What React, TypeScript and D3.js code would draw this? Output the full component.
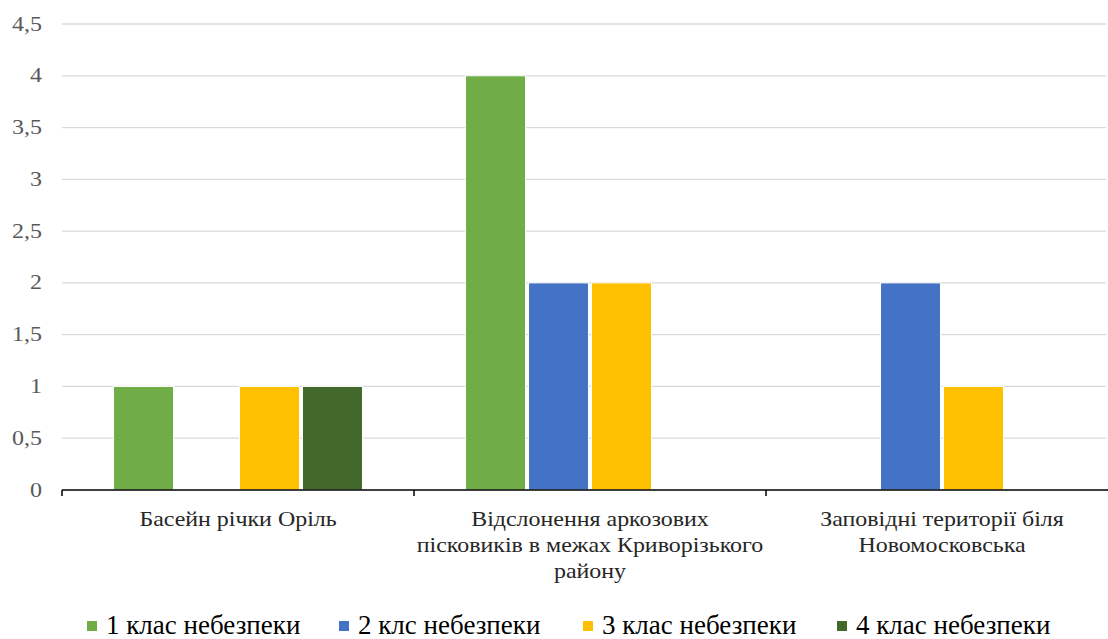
import React, { useEffect, useRef } from 'react';
import * as d3 from 'd3';

const categories = [
  ['Басейн річки Оріль'],
  ['Відслонення аркозових', 'пісковиків в межах Криворізького', 'району'],
  ['Заповідні території біля', 'Новомосковська'],
];
const seriesNames = ['1 клас небезпеки', '2 клс небезпеки', '3 клас небезпеки', '4 клас небезпеки'];
const seriesColors = ['#70ad47', '#4472c4', '#ffc000', '#43682b'];
const class1 = [1, 4, 0];
const class2 = [0, 2, 2];
const class3 = [1, 2, 1];
const class4 = [1, 0, 0];
const yTicks = [0, 0.5, 1, 1.5, 2, 2.5, 3, 3.5, 4, 4.5];

const W = 1108;
const H = 639;
const FONT = 'Liberation Serif, Times New Roman, serif';

export default function App() {
  const ref = useRef<SVGSVGElement>(null);

  useEffect(() => {
    const svg = d3.select(ref.current);
    svg.selectAll('*').remove();

    const left = 62;
    const right = 1118;
    const top = 24;
    const bottom = 490;
    const values = [class1, class2, class3, class4];
    const catIdx = categories.map((_, i) => String(i));

    const x0 = d3.scaleBand().domain(catIdx).range([left, right]).padding(0);
    const x1 = d3.scaleBand()
      .domain(seriesNames)
      .range([0, x0.bandwidth()])
      .paddingInner(0.048)
      .paddingOuter(0.818);
    const y = d3.scaleLinear().domain([0, 4.5]).range([bottom, top]);

    // gridlines
    svg.append('g')
      .selectAll('line')
      .data(yTicks.filter(t => t > 0))
      .enter()
      .append('line')
      .attr('x1', left)
      .attr('x2', 1106)
      .attr('y1', d => y(d))
      .attr('y2', d => y(d))
      .attr('stroke', '#d9d9d9')
      .attr('stroke-width', 1.3);

    // y labels (reference text is a bit stretched sideways)
    svg.append('g')
      .selectAll('text')
      .data(yTicks)
      .enter()
      .append('text')
      .attr('transform', d => `translate(42,${y(d)}) scale(1.2,1)`)
      .attr('dy', '0.33em')
      .attr('text-anchor', 'end')
      .attr('font-family', FONT)
      .attr('font-size', 20)
      .attr('fill', '#595959')
      .text(d => String(d).replace('.', ','));

    // bars
    const groups = svg.append('g')
      .selectAll('g')
      .data(catIdx)
      .enter()
      .append('g')
      .attr('transform', d => `translate(${x0(d)},0)`);

    groups.selectAll('rect')
      .data((d, ci) => seriesNames.map((s, si) => ({ s, si, v: values[si][ci] })).filter(e => e.v > 0))
      .enter()
      .append('rect')
      .attr('x', d => x1(d.s)!)
      .attr('y', d => y(d.v))
      .attr('width', x1.bandwidth())
      .attr('height', d => y(0) - y(d.v))
      .attr('fill', d => seriesColors[d.si])
      .attr('stroke', '#fff')
      .attr('stroke-width', 1);

    // x axis
    const axis = svg.append('g');
    axis.append('line')
      .attr('x1', left)
      .attr('x2', right)
      .attr('y1', bottom)
      .attr('y2', bottom)
      .attr('stroke', '#000')
      .attr('stroke-width', 1.5);
    axis.selectAll('line.tick')
      .data([...catIdx.map(c => x0(c)!), right])
      .enter()
      .append('line')
      .attr('class', 'tick')
      .attr('x1', d => d)
      .attr('x2', d => d)
      .attr('y1', bottom)
      .attr('y2', bottom + 6)
      .attr('stroke', '#000')
      .attr('stroke-width', 1.5);

    // category labels
    const labels = svg.append('g')
      .selectAll('text')
      .data(categories)
      .enter()
      .append('text')
      .attr('transform', (d, i) => `translate(${x0(String(i))! + x0.bandwidth() / 2},526) scale(1.14,1)`)
      .attr('text-anchor', 'middle')
      .attr('font-family', FONT)
      .attr('font-size', 21)
      .attr('fill', '#262626');
    labels.selectAll('tspan')
      .data(d => d)
      .enter()
      .append('tspan')
      .attr('x', 0)
      .attr('dy', (d, i) => (i === 0 ? 0 : 26))
      .text(d => d);

    // legend
    const legendX = [87, 339, 583, 837];
    const leg = svg.append('g')
      .selectAll('g')
      .data(seriesNames)
      .enter()
      .append('g')
      .attr('transform', (d, i) => `translate(${legendX[i]},626)`);
    leg.append('rect')
      .attr('x', 0)
      .attr('y', -5)
      .attr('width', 10)
      .attr('height', 10)
      .attr('fill', (d, i) => seriesColors[i]);
    leg.append('text')
      .attr('x', 19)
      .attr('y', 8)
      .attr('font-family', FONT)
      .attr('font-size', 27)
      .attr('fill', '#000')
      .text(d => d);
  }, []);

  return (
    <svg
      ref={ref}
      width={W}
      height={H}
      style={{ position: 'absolute', left: 0, top: 0, background: '#fff' }}
    />
  );
}
